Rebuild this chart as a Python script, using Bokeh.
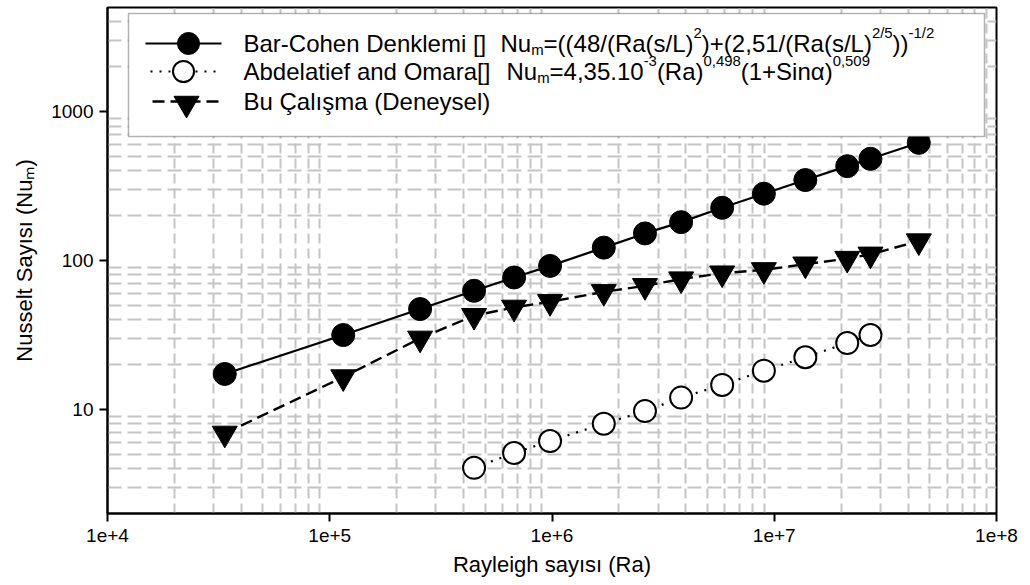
import math
from bokeh.plotting import figure
from bokeh.models import FixedTicker, CustomJSTickFormatter, Label, BoxAnnotation, Range1d
from bokeh.embed import file_html
from bokeh.resources import INLINE

# ---------------- data ----------------
ra = [33700, 115000, 255000, 446000, 675000, 980000, 1710000, 2620000, 3810000,
      5830000, 8980000, 13800000, 21300000, 27100000, 44700000]
nu_bar_cohen = [17.3, 31.6, 47.2, 62.6, 76.9, 92.0, 122, 152, 181, 226, 281, 347, 430, 482, 617]
nu_deneysel = [6.9, 16.5, 30.0, 42.6, 48.4, 52.8, 61.6, 67.6, 75.0, 82.2, 86.5, 94.4, 103, 110, 135]
ra_abdelatief = [446000, 675000, 980000, 1710000, 2620000, 3810000, 5830000,
                 8980000, 13800000, 21300000, 27100000]
nu_abdelatief = [4.05, 5.10, 6.13, 8.01, 9.74, 12.0, 14.6, 18.2, 22.4, 27.9, 31.6]

x_tick_values = [1e4, 1e5, 1e6, 1e7, 1e8]
x_tick_labels = ["1e+4", "1e+5", "1e+6", "1e+7", "1e+8"]
y_tick_values = [10, 100, 1000]
y_tick_labels = ["10", "100", "1000"]

x_label = "Rayleigh sayısı (Ra)"
y_label = "Nusselt Sayısı (Nuₘ)"
legend_names = ["Bar-Cohen Denklemi []", "Abdelatief and Omara[]", "Bu Çalışma (Deneysel)"]
legend_formula_1 = [("Nu", "n"), ("m", "sub"), ("=((48/(Ra(s/L)", "n"), ("2", "sup"),
                    (")+(2,51/(Ra(s/L)", "n"), ("2/5", "sup"), ("))", "n"), ("-1/2", "sup")]
legend_formula_2 = [("Nu", "n"), ("m", "sub"), ("=4,35.10", "n"), ("-3", "sup"), ("(Ra)", "n"),
                    ("0,498", "sup"), ("(1+Sin", "n"), ("α", "n"), (")", "n"), ("0,509", "sup")]

# ---------------- layout ----------------
W, H = 1030, 585
FL, FR, FT, FB = 107, 996, 7, 513
FONT = "Liberation Sans"

p = figure(width=W, height=H, x_axis_type="log", y_axis_type="log",
           x_range=Range1d(1e4, 1e8), y_range=Range1d(2, 5000),
           output_backend="svg", toolbar_location=None,
           min_border_left=FL, min_border_right=W - FR,
           min_border_top=FT, min_border_bottom=H - FB)
p.title.visible = False
p.background_fill_color = "white"
p.border_fill_color = "white"
p.outline_line_color = "black"
p.outline_line_width = 2

x_minor = [m * 10 ** k for k in range(4, 8) for m in range(2, 10)]
y_minor = [m * 10 ** k for k in range(0, 4) for m in range(2, 10) if m * 10 ** k <= 5000]
xt = FixedTicker(ticks=x_tick_values, minor_ticks=x_minor)
yt = FixedTicker(ticks=y_tick_values, minor_ticks=y_minor)
p.xaxis.ticker = xt
p.yaxis.ticker = yt
p.xgrid.ticker = xt
p.ygrid.ticker = yt

FMT = """
for (let i = 0; i < vals.length; i++) {
  if (Math.abs(Math.log10(tick) - Math.log10(vals[i])) < 1e-6) return labels[i];
}
return "";
"""
p.xaxis.formatter = CustomJSTickFormatter(args=dict(vals=x_tick_values, labels=x_tick_labels), code=FMT)
p.yaxis.formatter = CustomJSTickFormatter(args=dict(vals=y_tick_values, labels=y_tick_labels), code=FMT)

for ax in (p.xaxis, p.yaxis):
    ax.axis_line_color = "black"
    ax.axis_line_width = 2
    ax.major_tick_line_color = "black"
    ax.major_tick_line_width = 2
    ax.major_tick_out = 8
    ax.major_tick_in = 0
    ax.minor_tick_line_color = None
    ax.major_label_text_font = FONT
    ax.major_label_text_font_size = "19px"
    ax.major_label_text_color = "black"
    ax.axis_label_text_font = FONT
    ax.axis_label_text_font_size = "22px"
    ax.axis_label_text_font_style = "normal"
    ax.axis_label_text_color = "black"
p.xaxis.major_label_standoff = 7
p.yaxis.major_label_standoff = 6
p.xaxis.axis_label = x_label
p.yaxis.axis_label = y_label
p.xaxis.axis_label_standoff = 7
p.yaxis.axis_label_standoff = 11

for g, dash in ((p.xgrid, "10 5"), (p.ygrid, "14 6")):
    g.grid_line_color = None
    g.minor_grid_line_color = "#c4c4c4"
    g.minor_grid_line_width = 2
    g.minor_grid_line_dash = dash

# ---------------- series ----------------
p.line(ra, nu_bar_cohen, line_color="black", line_width=2.2)
p.scatter(ra, nu_bar_cohen, marker="circle", size=23, fill_color="black", line_color="black")
p.line(ra, nu_deneysel, line_color="black", line_width=2.4, line_dash="12 6")
p.scatter(ra, nu_deneysel, marker="inverted_triangle", size=25, fill_color="black", line_color="black")
p.line(ra_abdelatief, nu_abdelatief, line_color="black", line_width=2.2, line_dash="2 7")
p.scatter(ra_abdelatief, nu_abdelatief, marker="circle", size=22, fill_color="white",
          line_color="black", line_width=2)

# ---------------- text helpers ----------------
AW = {' ': 278, '(': 333, ')': 333, '+': 584, ',': 278, '-': 333, '.': 278, '/': 278, '=': 584,
      '[': 278, ']': 278, 'A': 667, 'B': 667, 'C': 722, 'Ç': 722, 'D': 722, 'L': 556, 'N': 722,
      'O': 778, 'R': 722, 'S': 667, 'a': 556, 'b': 556, 'c': 500, 'd': 556, 'e': 556, 'f': 278,
      'g': 556, 'h': 556, 'i': 222, 'ı': 278, 'k': 500, 'l': 222, 'm': 833, 'n': 556, 'o': 556,
      'r': 333, 's': 500, 'ş': 500, 't': 278, 'u': 556, 'y': 500, 'α': 578}


def text_w(s, size):
    return sum(AW.get(c, 556) for c in s) / 1000.0 * size


def add_text(txt, cx, cy, size, align="left"):
    p.add_layout(Label(x=cx - FL, y=FB - cy, x_units="screen", y_units="screen", text=txt,
                       text_font=FONT, text_font_size=f"{size:.1f}px", text_color="black",
                       text_baseline="alphabetic", text_align=align))


def rich(segments, cx, cy, size):
    pos = 0.0
    for txt, kind in segments:
        if kind == "n":
            fs, shift = size, 0.0
        elif kind == "sub":
            fs, shift = size * 0.62, size * 0.25
        else:
            fs, shift = size * 0.62, -size * 0.42
        add_text(txt, cx + pos, cy + shift, fs)
        pos += text_w(txt, fs)
    return pos


def xd(cx):
    return 10 ** (4 + (cx - FL) / (FR - FL) * 4)


def yd(cy):
    return 10 ** (math.log10(2) + (FB - cy) / (FB - FT) * math.log10(2500))


# ---------------- legend ----------------
p.add_layout(BoxAnnotation(left=128 - FL, right=984 - FL, top=FB - 13, bottom=FB - 136,
                           left_units="screen", right_units="screen",
                           top_units="screen", bottom_units="screen",
                           fill_color="white", fill_alpha=1.0,
                           line_color="black", line_width=1.5))

rows_y = [43, 71, 101]
p.line([xd(145), xd(221)], [yd(rows_y[0])] * 2, line_color="black", line_width=2.2, level="overlay")
p.scatter([xd(188)], [yd(rows_y[0])], marker="circle", size=22, fill_color="black",
          line_color="black", level="overlay")
p.line([xd(150), xd(219)], [yd(rows_y[1])] * 2, line_color="black", line_width=2.2,
       line_dash="2 7", level="overlay")
p.scatter([xd(183)], [yd(rows_y[1])], marker="circle", size=21, fill_color="white",
          line_color="black", line_width=2, level="overlay")
p.line([xd(152), xd(218)], [yd(rows_y[2])] * 2, line_color="black", line_width=2.4,
       line_dash="12 6", level="overlay")
p.scatter([xd(186)], [yd(rows_y[2] + 2)], marker="inverted_triangle", size=25, fill_color="black",
          line_color="black", level="overlay")

LS = 24
base_y = [43, 71, 101]
for name, by in zip(legend_names, base_y):
    add_text(name, 243, by, LS)
rich(legend_formula_1, 500, base_y[0], LS)
rich(legend_formula_2, 506, base_y[1], LS)

open("out.html", "w").write(file_html(p, INLINE))
